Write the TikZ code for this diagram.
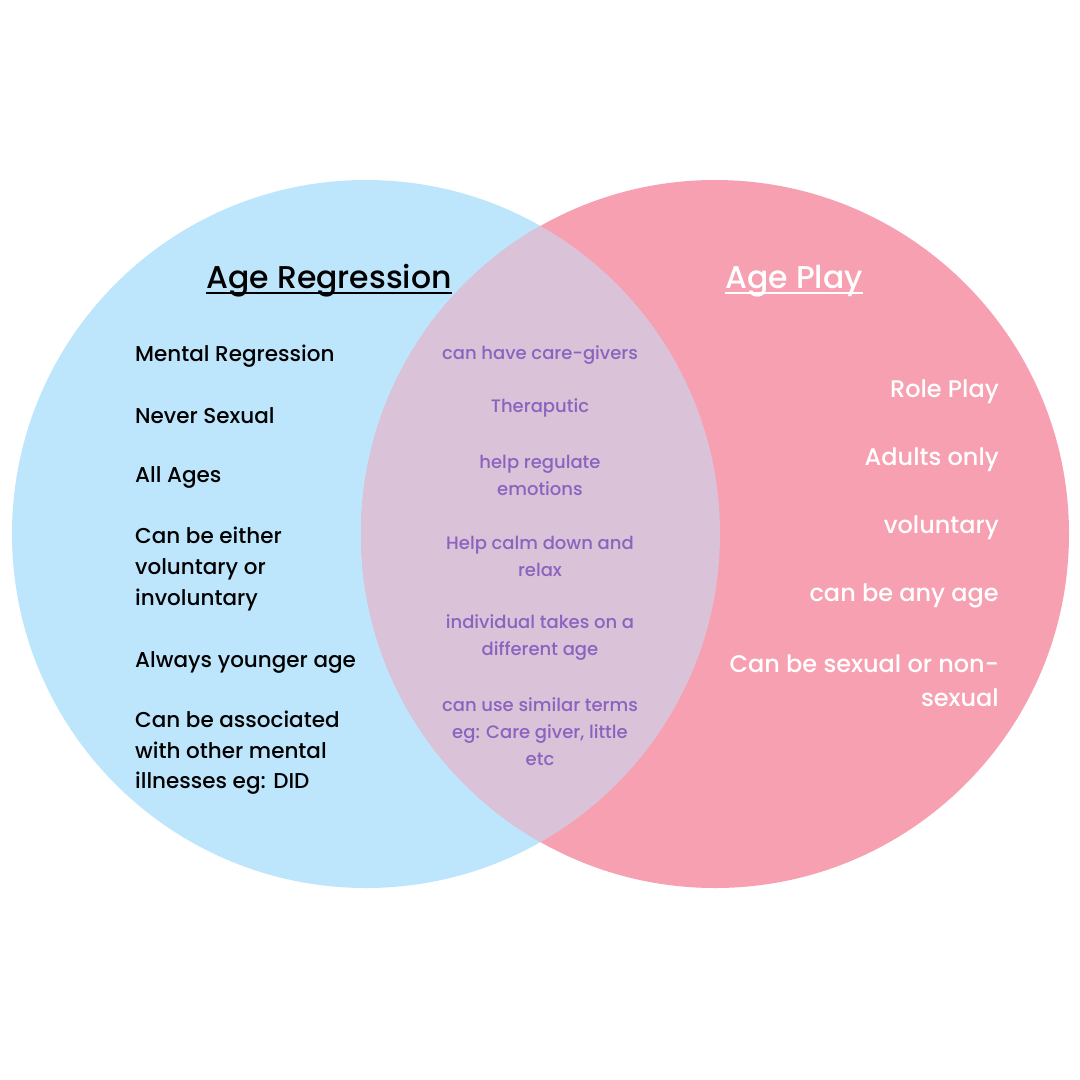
\documentclass[tikz,border=0pt]{standalone}
\usepackage{fontspec}
\setmainfont{Poppins}[UprightFont={* Medium}]
\usepackage{tikz}
\definecolor{regblue}{HTML}{BDE6FC}
\definecolor{playpink}{HTML}{F7A0B1}
\definecolor{bothmix}{HTML}{DAC2D9}
\definecolor{bothtext}{HTML}{8B63BF}
\tikzset{
  regitem/.style={anchor=west,inner sep=0pt,align=left,text=black,font=\fontsize{21.5}{30.6}\selectfont},
  bothitem/.style={anchor=center,inner sep=0pt,align=center,text=bothtext,font=\fontsize{18}{27}\selectfont},
  playitem/.style={anchor=east,inner sep=0pt,align=right,text=white,font=\fontsize{24}{34}\selectfont},
  title/.style={inner sep=0pt,anchor=base,font=\fontsize{31.5}{36}\selectfont}
}
\begin{document}
\begin{tikzpicture}[x=1pt,y=-1pt]
\useasboundingbox[fill=white] (0,0) rectangle (1080,1080);
% the two sets and their overlap
\fill[regblue] (366,534) circle (354);
\fill[playpink] (715,534) circle (354);
\begin{scope}
  \clip (366,534) circle (354);
  \fill[bothmix] (715,534) circle (354);
\end{scope}
% titles
\node[title,text=black] (regtitle) at (329,288) {Age Regression};
\node[title,text=white] (playtitle) at (794,288) {Age Play};
\draw[black,line width=2.4] ([yshift=-5]regtitle.base west) -- ([yshift=-5]regtitle.base east);
\draw[white,line width=2.4] ([yshift=-5]playtitle.base west) -- ([yshift=-5]playtitle.base east);
% left set
\foreach \t/\y [count=\i] in {Mental Regression/356,Never Sexual/416,All Ages/477,
  {Can be either\\voluntary or\\involuntary}/569,Always younger age/662,
  {Can be associated\\with other mental\\illnesses eg: DID}/753}
  \node[regitem] (reg\i) at (135,\y) {\t};
% overlap
\foreach \t/\y [count=\i] in {can have care-givers/355,Theraputic/408,
  {help regulate\\emotions}/475.5,{Help calm down and\\relax}/556.5,
  {individual takes on a\\different age}/637.5,{can use similar terms\\eg: Care giver, little\\etc}/732}
  \node[bothitem] (both\i) at (540,\y) {\t};
% right set
\foreach \t/\y [count=\i] in {Role Play/392,Adults only/460,voluntary/528,
  can be any age/596,{Can be sexual or non-\\sexual}/681}
  \node[playitem] (play\i) at (999,\y) {\t};
\end{tikzpicture}
\end{document}
